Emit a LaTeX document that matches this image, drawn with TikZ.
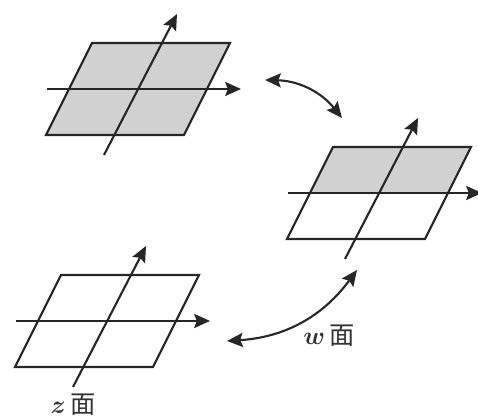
\documentclass[tikz,border=0pt]{standalone}
\usepackage{amsmath}
\usepackage{fontspec}
\newfontfamily\cjk{Noto Sans CJK SC}
\usetikzlibrary{arrows.meta}

\begin{document}
\begin{tikzpicture}[x=0.02cm, y=0.02cm,
    pln/.style={draw=black!85, line width=1.2pt, line join=miter},
    ax/.style={-{Stealth[length=9pt,width=8pt,inset=1.5pt]}, draw=black!85, line width=1.2pt},
    dbl/.style={{Stealth[length=9pt,width=8pt,inset=1.5pt]}-{Stealth[length=9pt,width=8pt,inset=1.5pt]}, draw=black!85, line width=1.2pt},
    lbl/.style={font=\Large, text=black!80, inner sep=1pt}
]
\useasboundingbox (0,0) rectangle (478,419);

% upper plane, shaded
\begin{scope}[shift={(46,284)}]
\filldraw[pln, fill=black!18] (0,0) -- (138,0) -- (184,92) -- (46,92) -- cycle;
\draw[ax] (1,46) -- (195,46);
\draw[ax] (58,-20) -- (131,121);
\coordinate (up) at (219,55);
\end{scope}

% right plane, upper half shaded
\begin{scope}[shift={(287,180)}]
\fill[black!18] (23,46) -- (161,46) -- (184,92) -- (46,92) -- cycle;
\draw[pln] (0,0) -- (138,0) -- (184,92) -- (46,92) -- cycle;
\draw[ax] (1,46) -- (195,46);
\draw[ax] (58,-20) -- (131,121);
\coordinate (rtop) at (55,121);
\coordinate (rbot) at (70,-31);
\end{scope}

% lower plane
\begin{scope}[shift={(15,52)}]
\draw[pln] (0,0) -- (138,0) -- (184,92) -- (46,92) -- cycle;
\draw[ax] (1,46) -- (195,46);
\draw[ax] (58,-20) -- (131,121);
\coordinate (low) at (212,26);
\node[lbl] (zlbl) at (58,-38) {$\boldsymbol{z}$\,{\cjk 面}};
\end{scope}

\node[lbl] (wlbl) at (329,83) {$\boldsymbol{w}$\,{\cjk 面}};

\draw[dbl] (up) to[bend left=25] (rtop);
\draw[dbl] (rbot) to[bend left=25] (low);
\end{tikzpicture}
\end{document}
